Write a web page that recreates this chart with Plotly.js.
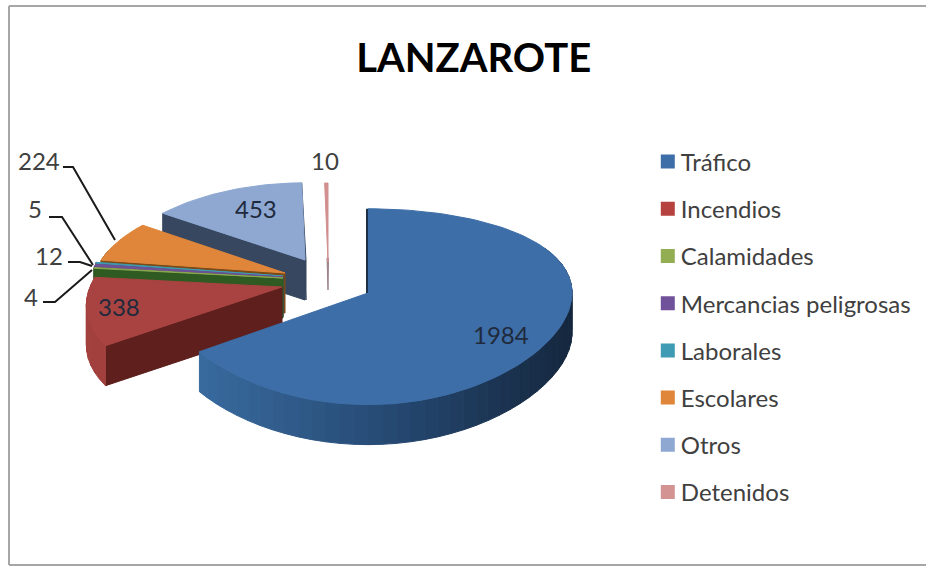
<!DOCTYPE html>
<html><head><meta charset="utf-8">
<script src="https://cdn.plot.ly/plotly-3.0.1.min.js"></script>
<style>html,body{margin:0;padding:0;background:#fff}#c{width:926px;height:567px}</style>
</head><body><div id="c"></div>
<script>
const categories = ["Tráfico","Incendios","Calamidades","Mercancias peligrosas","Laborales","Escolares","Otros","Detenidos"];
const values = [1984,338,4,12,5,224,453,10];
const titleText = "LANZAROTE";

const topColors  = ["#3D6EA8","#A84341","#8AA84F","#6E5296","#3F9AB0","#E0863A","#8EA8D2","#D28F8F"];
const cutColors  = ["#1D3A5C","#5E1F1D","#2F5A22","#3F3560","#3C5A78","#7A4A17","#36475F","#6E4048"];
const swatches   = ["#3D6EA8","#B5423F","#93AD52","#6F5299","#3E9BB3","#E0863A","#8EA8D2","#D39393"];
const apexX = [368,282,283,283,283,285,305,328];
const apexY = [293,287,278,277,276,273,260,262];
const sliceRx = [204,192,193,193,193,190,190,190];
const slicePx = [0,0.2,0.15,0.15,0.15,0.15,0.15,0.15];
const sliceRy = [96,96,96,96,96,90,88,90];
const drawOrder = [7,6,5,4,3,2,1,0];
const labelX = [501,119,31,49,35,39,256,325];
const labelY = [334,306,296,255,208,160,208,160];
const leaders = [
  {i:2,x:[43,55,92],y:[302,302,270]},
  {i:3,x:[68,80,92],y:[262,262,266]},
  {i:4,x:[49,62,93],y:[217,217,265]},
  {i:5,x:[63,73,115],y:[167,167,240]}
];
const PY=0.14, DEPTH=40;
const total = values.reduce((a,b)=>a+b,0);

function pt(i,deg){
  const t=deg*Math.PI/180,u=Math.sin(t),v=-Math.cos(t);
  return [apexX[i]+sliceRx[i]*u*(1+slicePx[i]*v), apexY[i]+sliceRy[i]*v/(1-PY*v)];
}
function poly(xs,ys,color){
  return {type:"scatter",mode:"lines",x:xs.concat(xs[0]),y:ys.concat(ys[0]),fill:"toself",
    fillcolor:color,line:{color:color,width:1},hoverinfo:"skip",showlegend:false};
}
function mix(a,b,t){
  const pa=[1,3,5].map(k=>parseInt(a.substr(k,2),16)),pb=[1,3,5].map(k=>parseInt(b.substr(k,2),16));
  return "rgb("+pa.map((c,k)=>Math.round(c+(pb[k]-c)*t)).join(",")+")";
}
function wallColor(i,x){
  if(i===0){
    const t=Math.max(0,Math.min(1,(x-201)/370));
    return t<0.45?mix("#386A9E","#284D78",t/0.45):mix("#284D78","#15273E",(t-0.45)/0.55);
  }
  if(i===1) return "#A2403E";
  return cutColors[i];
}
let angle=[],acc=0;
values.forEach((v,i)=>{angle.push([acc,acc+v/total*360]);acc+=v/total*360;});

const traces=[];
drawOrder.forEach(i=>{
  const [a,b]=angle[i];
  const ax=apexX[i],ay=apexY[i];
  const ps=pt(i,a),pe=pt(i,b);
  if(i!==0 && i!==7){
    traces.push(poly([ax,ps[0],ps[0],ax],[ay,ps[1],ps[1]+DEPTH,ay+DEPTH],cutColors[i]));
  }
  const step=4,from=Math.max(a,60),to=Math.min(b,285);
  for(let d=from;d<to;d+=step){
    const e=Math.min(d+step,to),p=pt(i,d),q=pt(i,e);
    traces.push(poly([p[0],q[0],q[0],p[0]],[p[1],q[1],q[1]+DEPTH,p[1]+DEPTH],wallColor(i,(p[0]+q[0])/2)));
  }
  if(i===6) traces.push(poly([pe[0],ax+1,ax+1,pe[0]],[pe[1],ay,ay+DEPTH,pe[1]+DEPTH],cutColors[i]));
  if(i===7) traces.push(poly([ax-1,ax+0.5,ax],[ay-4,ay-4,ay+28],"#9A8288"));
  const xs=[ax],ys=[ay];
  const n=Math.max(2,Math.ceil((b-a)/2));
  for(let k=0;k<=n;k++){const p=pt(i,a+(b-a)*k/n);xs.push(p[0]);ys.push(p[1]);}
  traces.push(poly(xs,ys,topColors[i]));
  if(i===0){
    const p=pt(0,0);
    traces.push({type:"scatter",mode:"lines",x:[ax-1,p[0]-1],y:[ay,p[1]],line:{color:"#1C3048",width:2},hoverinfo:"skip",showlegend:false});
  }
});
leaders.forEach(l=>traces.push({type:"scatter",mode:"lines",x:l.x,y:l.y,line:{color:"#1a1a1a",width:2},hoverinfo:"skip",showlegend:false}));
categories.forEach((c,i)=>traces.push({type:"scatter",mode:"markers",x:[null],y:[null],name:c,legendgroup:c,
  marker:{symbol:"square",size:14,color:swatches[i]},hoverinfo:"skip"}));

const F="Lato, 'Open Sans', sans-serif";
const layout={
  width:926,height:567,margin:{l:0,r:0,t:0,b:0},paper_bgcolor:"#fff",plot_bgcolor:"#fff",
  title:{text:"<b>"+titleText+"</b>",x:0.5115,xanchor:"center",y:0.897,yanchor:"middle",font:{family:F,size:40,color:"#000"}},
  xaxis:{range:[0,926],visible:false,fixedrange:true},
  yaxis:{range:[567,0],visible:false,fixedrange:true},
  showlegend:true,
  legend:{x:0.692,y:0.754,xanchor:"left",yanchor:"top",traceorder:"grouped",tracegroupgap:13,
    font:{family:F,size:24,color:"#404040"},bgcolor:"rgba(0,0,0,0)",itemclick:false,itemdoubleclick:false},
  shapes:[
    {type:"line",xref:"x",yref:"y",x0:9,y0:6,x1:926,y1:6,line:{color:"#A6A6A6",width:2},layer:"below"},
    {type:"line",xref:"x",yref:"y",x0:9,y0:6,x1:9,y1:565,line:{color:"#A6A6A6",width:2},layer:"below"},
    {type:"line",xref:"x",yref:"y",x0:9,y0:565,x1:926,y1:565,line:{color:"#A6A6A6",width:2},layer:"below"}
  ],
  annotations:categories.map((c,i)=>({xref:"x",yref:"y",x:labelX[i],y:labelY[i],text:String(values[i]),showarrow:false,
    xanchor:"center",yanchor:"middle",font:{family:F,size:24,color:(i===0||i===1||i===6)?"#1F2A3C":"#404040"}}))
};
Plotly.newPlot("c",traces,layout,{displayModeBar:false,staticPlot:true}).then(gd=>{
  gd.querySelectorAll(".legend .legendpoints").forEach(el=>el.setAttribute("transform","translate(7,0)"));
});
</script></body></html>
